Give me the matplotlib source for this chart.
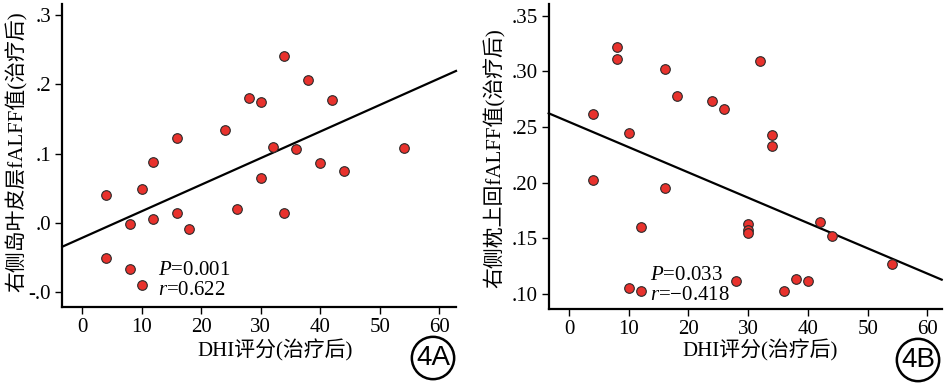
import numpy as np
import matplotlib
matplotlib.use("Agg")
import matplotlib.pyplot as plt

plt.rcParams['font.family'] = ['Liberation Serif', 'Noto Sans CJK SC']
plt.rcParams['mathtext.fontset'] = 'custom'
plt.rcParams['mathtext.rm'] = 'Liberation Serif'
plt.rcParams['mathtext.it'] = 'Liberation Serif:italic'

# ---- data panel A ----
dhi_a = [4, 4, 8, 8, 10, 10, 12, 12, 16, 16, 18, 24, 26, 28, 30, 30, 32, 34, 34, 36, 38, 40, 42, 44, 54]
falff_a = [0.040, -0.051, -0.002, -0.066, 0.049, -0.090, 0.088, 0.006, 0.122, 0.014, -0.009,
           0.134, 0.020, 0.181, 0.174, 0.065, 0.110, 0.241, 0.015, 0.107, 0.207, 0.086,
           0.178, 0.075, 0.108]
# ---- data panel B ----
dhi_b = [4, 4, 8, 8, 10, 10, 12, 12, 16, 16, 18, 24, 26, 28, 30, 30, 30, 32, 34, 34, 36, 38, 40, 42, 44, 54]
falff_b = [0.2617, 0.2021, 0.3216, 0.3108, 0.2443, 0.1054, 0.1605, 0.1030, 0.3018, 0.1952,
           0.2778, 0.2737, 0.2662, 0.1120, 0.1625, 0.1575, 0.1550, 0.3090, 0.2428, 0.2329,
           0.1027, 0.1132, 0.1117, 0.1644, 0.1518, 0.1270]

xticks = [0, 10, 20, 30, 40, 50, 60]
yticks_a = [-0.1, 0.0, 0.1, 0.2, 0.3]
ytick_labels_a = ['-.0', '.0', '.1', '.2', '.3']
yticks_b = [0.10, 0.15, 0.20, 0.25, 0.30, 0.35]
ytick_labels_b = ['.10', '.15', '.20', '.25', '.30', '.35']

ylabel_a = '右侧岛叶皮层fALFF值(治疗后)'
ylabel_b = '右侧枕上回fALFF值(治疗后)'
xlabel = 'DHI评分(治疗后)'
stats_a = ['$P$=0.001', '$r$=0.622']
stats_b = ['$P$=0.033', '$r$=−0.418']
tags = ['4A', '4B']

W, H = 945, 384
fig = plt.figure(figsize=(W / 100, H / 100), dpi=100)

def px(x, y):
    return x / W, 1 - y / H

def make_panel(rect, xs, ys, xlim, ylim, yticks, yticklabels, ylabel, ylab_pos,
               xlab_pos, stats, stats_pos, tag, tag_pos):
    ax = fig.add_axes(rect)
    ax.set_xlim(*xlim)
    ax.set_ylim(*ylim)
    for s in ['top', 'right']:
        ax.spines[s].set_visible(False)
    for s in ['left', 'bottom']:
        ax.spines[s].set_linewidth(1.6)
    ax.set_xticks(xticks)
    ax.set_xticklabels([str(t) for t in xticks])
    ax.set_yticks(yticks)
    ax.set_yticklabels(yticklabels)
    ax.tick_params(axis='both', direction='out', length=5, width=1.0, labelsize=15, pad=3)
    ax.scatter(xs, ys, s=48, c='#e8322d', edgecolors='#2a2a2a', linewidths=0.8, zorder=3)
    k, b = np.polyfit(xs, ys, 1)
    xx = np.array(xlim)
    ax.plot(xx, k * xx + b, color='black', lw=1.6, zorder=2, clip_on=False)
    fx, fy = px(*ylab_pos)
    fig.text(fx, fy, ylabel, rotation=90, ha='center', va='center', fontsize=15)
    fx, fy = px(*xlab_pos)
    fig.text(fx, fy, xlabel, ha='center', va='center', fontsize=15)
    ax.text(stats_pos[0], stats_pos[1], stats[0], fontsize=15, ha='left', va='center')
    ax.text(stats_pos[0], stats_pos[2], stats[1], fontsize=15, ha='left', va='center')
    fx, fy = px(*tag_pos)
    fig.text(fx, fy, tag, ha='center', va='center', fontsize=20, family='Liberation Sans',
             bbox=dict(boxstyle='circle,pad=0.15', fc='white', ec='black', lw=1.8))
    return ax

# panel A
l, b_ = px(62.3, 307)
make_panel([l, b_, (456 - 62.3) / W, (307 - 4) / H], dhi_a, falff_a,
           (-3.3, 62.8), (-0.1212, 0.316), yticks_a, ytick_labels_a, ylabel_a,
           (17, 152), (275.5, 350), stats_a, (12.7, -0.068, -0.097), tags[0], (433, 358))

# panel B
l, b_ = px(548.7, 309.3)
make_panel([l, b_, (941.7 - 548.7) / W, (309.3 - 4) / H], dhi_b, falff_b,
           (-3.4, 62.4), (0.0863, 0.3605), yticks_b, ytick_labels_b, ylabel_b,
           (495, 158), (760, 350), stats_b, (13.6, 0.1168, 0.0991), tags[1], (918, 360))

fig.savefig('out.png', dpi=100)
